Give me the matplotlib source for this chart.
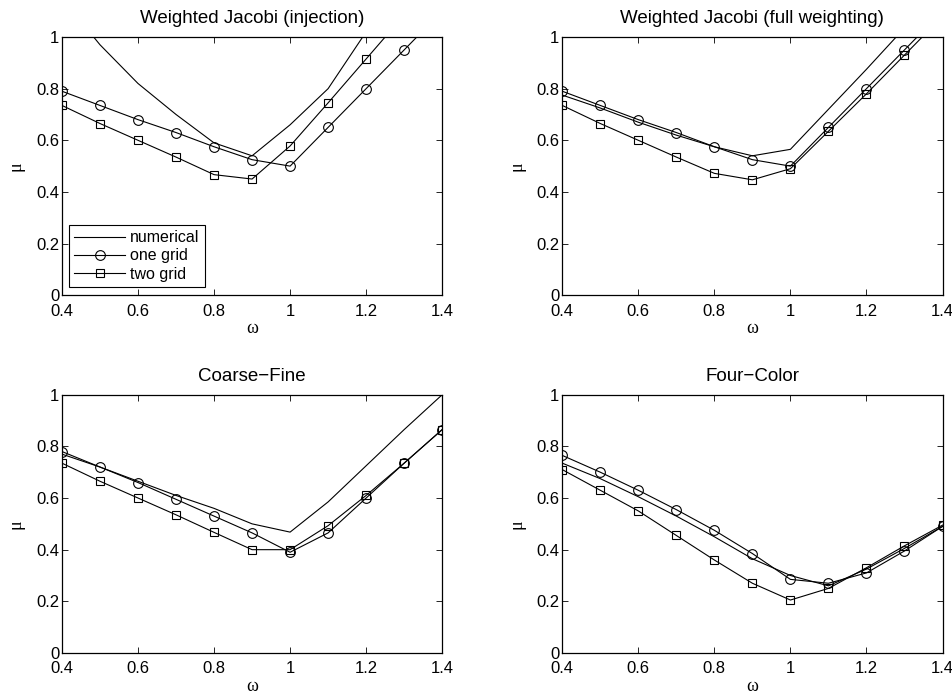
import matplotlib
matplotlib.use("Agg")
import matplotlib.pyplot as plt
from matplotlib.ticker import FormatStrFormatter

plt.rcParams['font.family'] = ['Liberation Sans', 'DejaVu Sans']

omega = [0.4, 0.5, 0.6, 0.7, 0.8, 0.9, 1.0, 1.1, 1.2, 1.3, 1.4]

titles = ["Weighted Jacobi (injection)", "Weighted Jacobi (full weighting)",
          "Coarse\u2212Fine", "Four\u2212Color"]

# numerical, one grid, two grid for each panel
inj_num = [1.15, 0.97, 0.82, 0.70, 0.59, 0.54, 0.66, 0.80, 1.02, 1.25, 1.48]
inj_one = [0.79, 0.735, 0.68, 0.63, 0.575, 0.525, 0.50, 0.65, 0.80, 0.95, 1.10]
inj_two = [0.735, 0.665, 0.60, 0.535, 0.467, 0.45, 0.578, 0.745, 0.915, 1.085, 1.25]

fw_num = [0.775, 0.725, 0.67, 0.62, 0.575, 0.54, 0.565, 0.72, 0.875, 1.035, 1.19]
fw_one = [0.79, 0.735, 0.68, 0.63, 0.575, 0.525, 0.50, 0.65, 0.80, 0.95, 1.10]
fw_two = [0.735, 0.665, 0.60, 0.535, 0.472, 0.447, 0.49, 0.635, 0.78, 0.93, 1.08]

cf_num = [0.77, 0.72, 0.665, 0.61, 0.56, 0.50, 0.468, 0.585, 0.725, 0.865, 1.0]
cf_one = [0.78, 0.72, 0.66, 0.595, 0.53, 0.465, 0.39, 0.465, 0.60, 0.735, 0.865]
cf_two = [0.735, 0.665, 0.60, 0.535, 0.467, 0.40, 0.40, 0.493, 0.61, 0.735, 0.865]

fc_num = [0.735, 0.675, 0.605, 0.53, 0.45, 0.365, 0.30, 0.26, 0.325, 0.405, 0.49]
fc_one = [0.765, 0.70, 0.63, 0.555, 0.475, 0.385, 0.285, 0.27, 0.31, 0.395, 0.49]
fc_two = [0.71, 0.63, 0.55, 0.455, 0.36, 0.27, 0.205, 0.25, 0.33, 0.415, 0.495]

panels = [(inj_num, inj_one, inj_two), (fw_num, fw_one, fw_two),
          (cf_num, cf_one, cf_two), (fc_num, fc_one, fc_two)]

fig = plt.figure(figsize=(9.53, 6.98), dpi=100)
rects = [[0.065, 0.577, 0.399, 0.370], [0.590, 0.577, 0.399, 0.370],
         [0.065, 0.0645, 0.399, 0.370], [0.590, 0.0645, 0.399, 0.370]]

for i, (num, one, two) in enumerate(panels):
    ax = fig.add_axes(rects[i])
    ax.plot(omega, num, color='k', lw=0.8, label='numerical')
    ax.plot(omega, one, color='k', lw=0.8, marker='o', ms=7, mfc='none',
            mew=0.8, label='one grid')
    ax.plot(omega, two, color='k', lw=0.8, marker='s', ms=5.5, mfc='none',
            mew=0.8, label='two grid')
    ax.set_xlim(0.4, 1.4)
    ax.set_ylim(0, 1)
    ax.set_xticks([0.4, 0.6, 0.8, 1.0, 1.2, 1.4])
    ax.set_yticks([0, 0.2, 0.4, 0.6, 0.8, 1.0])
    ax.xaxis.set_major_formatter(FormatStrFormatter('%g'))
    ax.yaxis.set_major_formatter(FormatStrFormatter('%g'))
    ax.tick_params(direction='in', top=True, right=True, length=4,
                   width=0.6, labelsize=12, pad=2)
    ax.tick_params(axis='x', pad=6)
    for s in ax.spines.values():
        s.set_linewidth(0.9)
    ax.set_title(titles[i], fontsize=13.5, pad=10)
    ax.set_xlabel('\u03c9', family=['Liberation Serif'], fontsize=13, labelpad=1)
    ax.set_ylabel('\u03bc', family=['Liberation Serif'], fontsize=13, labelpad=8)
    if i == 0:
        leg = ax.legend(loc='lower left', bbox_to_anchor=(0.018, 0.031),
                        borderaxespad=0, fancybox=False, framealpha=1,
                        edgecolor='k', fontsize=11.5, handlelength=3.2,
                        handletextpad=0.3, borderpad=0.35, labelspacing=0.2)
        leg.get_frame().set_linewidth(0.8)

fig.savefig('out.png', dpi=100)
